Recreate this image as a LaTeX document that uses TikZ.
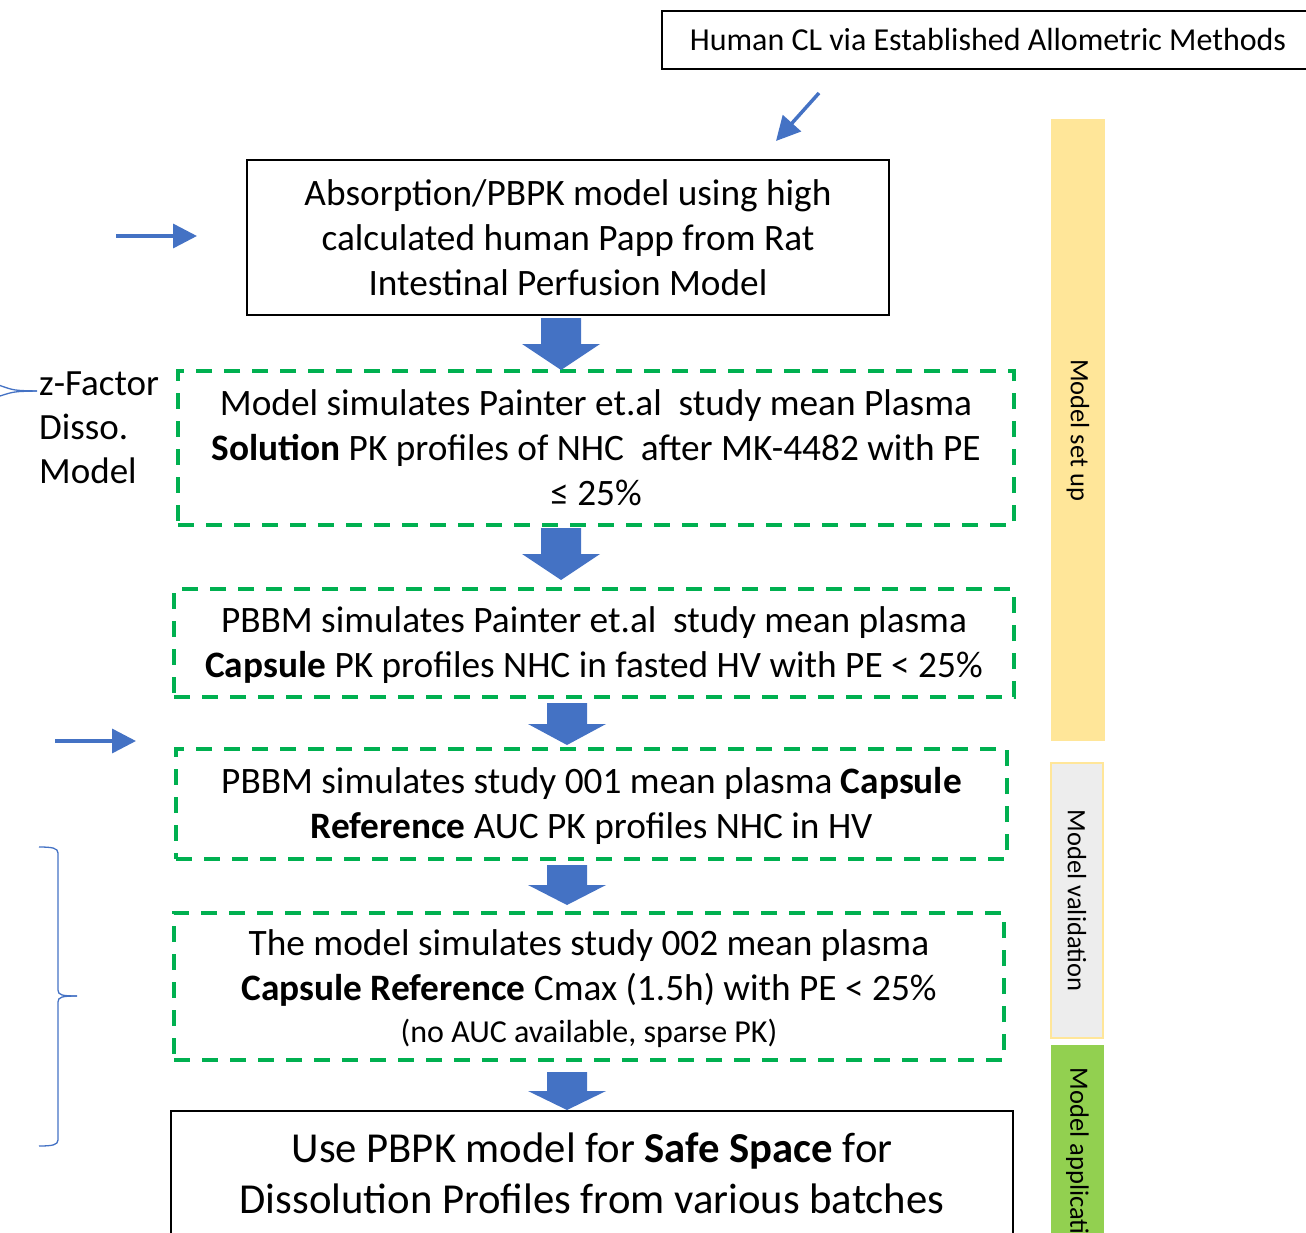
\documentclass[tikz,border=0pt]{standalone}
\usepackage{fontspec}
\setmainfont{Carlito}
\usetikzlibrary{arrows.meta}
\definecolor{ablue}{HTML}{4472C4}
\definecolor{dgreen}{HTML}{00B050}
\definecolor{syellow}{HTML}{FFE699}
\definecolor{sgrey}{HTML}{EDEDED}
\definecolor{sgreen}{HTML}{92D050}
\newcommand\blockarr[4]{\fill[ablue] (#1-20,#2) -- (#1+20,#2) -- (#1+20,#3) -- (#1+39,#3) -- (#1,#4) -- (#1-39,#3) -- (#1-20,#3) -- cycle;}
\begin{document}
\begin{tikzpicture}[x=1pt,y=-1pt,
  solidbox/.style={draw=black, line width=2pt, align=center, inner sep=0pt},
  dashbox/.style={draw=dgreen, line width=3.2pt, dash pattern=on 16pt off 12pt, align=center, inner sep=0pt},
  big/.style={font=\fontsize{37.3}{45}\selectfont},
  thinarrow/.style={draw=ablue, line width=3.5pt, -{Triangle[length=24pt,width=24pt]}},
  sidebar/.style={rotate=-90, font=\fontsize{26.5}{30}\selectfont, inner sep=0pt},
  bracestyle/.style={draw=ablue, line width=1.3pt}]
\useasboundingbox (0,0) rectangle (1306,1233);
\clip (0,0) rectangle (1306,1233);

\node[solidbox, minimum width=652pt, minimum height=58pt, font=\fontsize{32}{38}\selectfont] (hcl) at (988,40) {Human CL via Established Allometric Methods};

\node[solidbox, big, minimum width=642pt, minimum height=155pt] (A) at (568,237.5) {Absorption/PBPK model using high\\calculated human Papp from Rat\\Intestinal Perfusion Model};

\node[dashbox, big, minimum width=836pt, minimum height=154pt] (B) at (596,448) {Model simulates Painter et.al\ \ study mean Plasma\\\textbf{Solution} PK profiles of NHC\ \ after MK-4482 with PE\\≤ 25\%};

\node[dashbox, big, minimum width=840pt, minimum height=108pt, text depth=2pt] (C) at (594,643) {PBBM simulates Painter et.al\ \ study mean plasma\\\textbf{Capsule} PK profiles NHC in fasted HV with PE < 25\%};

\node[dashbox, big, minimum width=831pt, minimum height=110pt, text depth=2pt] (D) at (591.5,804) {PBBM simulates study 001 mean plasma \textbf{Capsule}\\\textbf{Reference} AUC PK profiles NHC in HV};

\node[dashbox, big, minimum width=830pt, minimum height=147pt, text depth=0pt] (E) at (589,986.5) {The model simulates study 002 mean plasma\\\textbf{Capsule Reference} Cmax (1.5h) with PE < 25\%\\[-3pt]{\fontsize{32}{38}\selectfont (no AUC available, sparse PK)}};

\node[solidbox, font=\fontsize{42.7}{51}\selectfont, minimum width=842pt, minimum height=125pt] (F) at (592,1173.5) {Use PBPK model for \textbf{Safe Space} for\\Dissolution Profiles from various batches};

\node[font=\fontsize{37}{44}\selectfont, align=left, anchor=west, inner sep=0pt] (Z) at (39,428) {z-Factor\\Disso.\\Model};

\node[sidebar, fill=syellow, minimum width=622pt, minimum height=54pt] (S1) at (1078,430) {Model set up};
\node[sidebar, fill=sgrey, draw=syellow, line width=2pt, minimum width=275pt, minimum height=52pt] (S2) at (1077,900.5) {Model validation};
\node[sidebar, fill=sgreen, minimum width=240pt, minimum height=53pt] (S3) at (1077.5,1165) {Model application};

\coordinate (d1) at (819,93);
\coordinate (d2) at (776,141);
\draw[thinarrow] (d1) -- (d2);
\coordinate (l1s) at (116,236);
\coordinate (l1e) at (197,236);
\draw[thinarrow] (l1s) -- (l1e);
\coordinate (l2s) at (55,741);
\coordinate (l2e) at (136,741);
\draw[thinarrow] (l2s) -- (l2e);

\blockarr{561}{318}{344}{370}
\blockarr{561}{528}{554}{580}
\blockarr{567}{703}{724}{745}
\blockarr{567}{865}{885}{905}
\blockarr{567}{1072}{1091}{1110}

\coordinate (zt) at (37,391);
\draw[bracestyle] (0,385.5) .. controls (14,390.5) .. (zt);
\draw[bracestyle] (0,396) .. controls (14,391.5) .. (zt);

\coordinate (bt) at (77,996);
\draw[bracestyle] (39,847) .. controls (52,847) and (58,848) .. (58,853) -- (58,990) .. controls (58,995) and (62,996) .. (bt);
\draw[bracestyle] (bt) .. controls (62,996) and (58,997) .. (58,1002) -- (58,1140) .. controls (58,1145) and (52,1146) .. (39,1146);
\end{tikzpicture}
\end{document}
